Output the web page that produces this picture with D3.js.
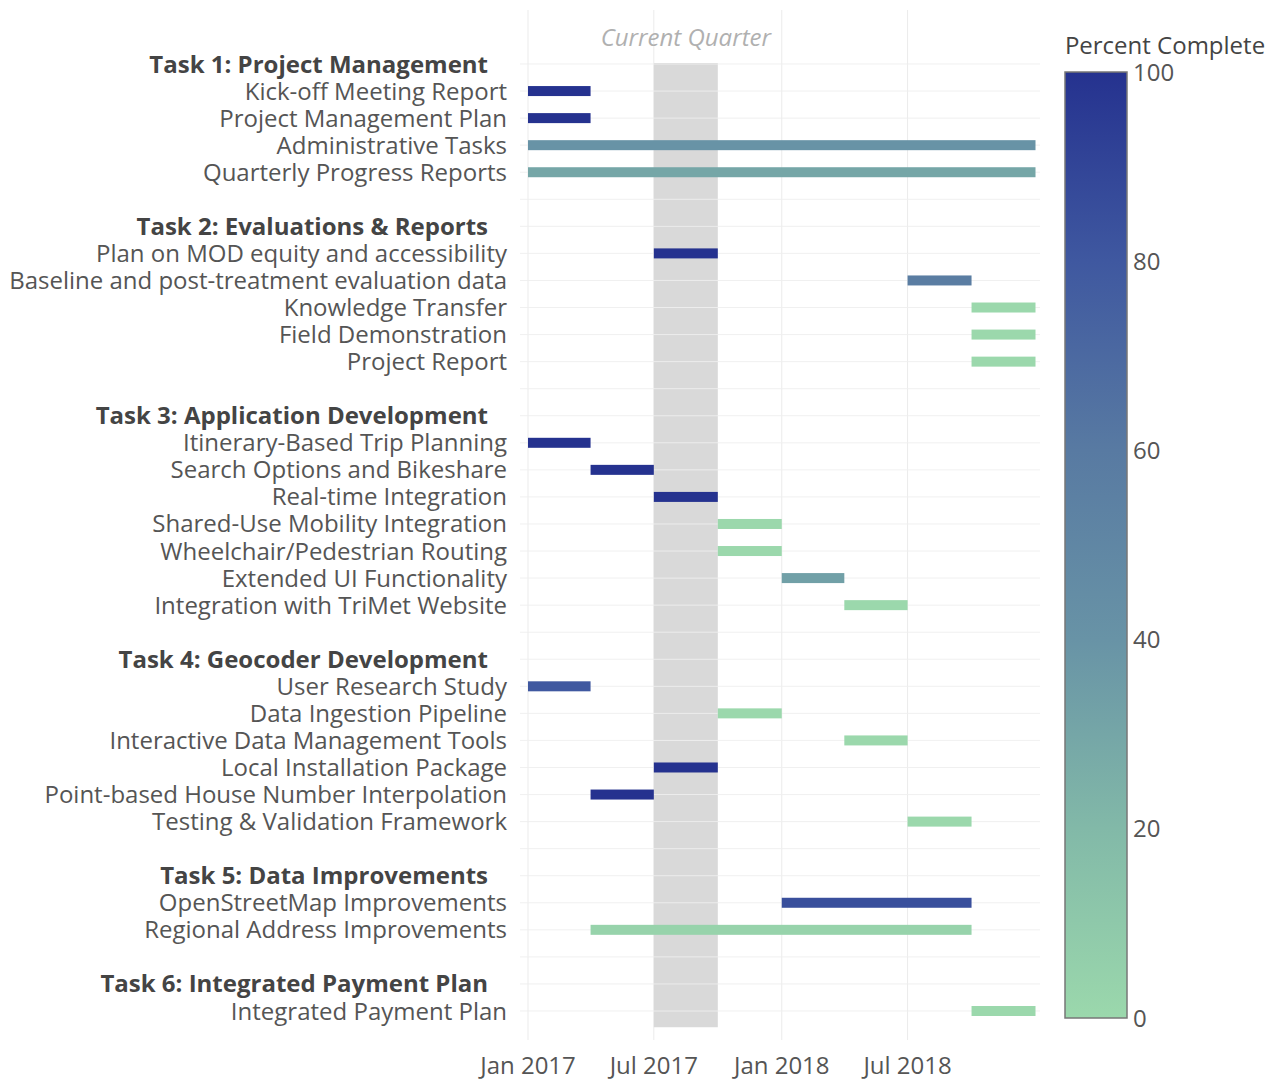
<!DOCTYPE html>
<html>
<head>
<meta charset="utf-8">
<script src="https://cdn.jsdelivr.net/npm/d3@7"></script>
<style>
  body { margin: 0; background: #fff; }
  text { font-family: "Open Sans", sans-serif; }
</style>
</head>
<body>
<div id="chart"></div>
<script>
// rows of the chart, top to bottom ("" = spacer row)
var rowLabels = [
  "Task 1: Project Management", "Kick-off Meeting Report", "Project Management Plan", "Administrative Tasks", "Quarterly Progress Reports", "",
  "Task 2: Evaluations & Reports", "Plan on MOD equity and accessibility", "Baseline and post-treatment evaluation data", "Knowledge Transfer", "Field Demonstration", "Project Report", "",
  "Task 3: Application Development", "Itinerary-Based Trip Planning", "Search Options and Bikeshare", "Real-time Integration", "Shared-Use Mobility Integration", "Wheelchair/Pedestrian Routing", "Extended UI Functionality", "Integration with TriMet Website", "",
  "Task 4: Geocoder Development", "User Research Study", "Data Ingestion Pipeline", "Interactive Data Management Tools", "Local Installation Package", "Point-based House Number Interpolation", "Testing & Validation Framework", "",
  "Task 5: Data Improvements", "OpenStreetMap Improvements", "Regional Address Improvements", "",
  "Task 6: Integrated Payment Plan", "Integrated Payment Plan"
];
var rowHeader = [
  1,0,0,0,0,0,
  1,0,0,0,0,0,0,
  1,0,0,0,0,0,0,0,0,
  1,0,0,0,0,0,0,0,
  1,0,0,0,
  1,0
];
// start / finish and percent complete for each row (null = no bar)
var startDates = [
  null, "2017-01-01", "2017-01-01", "2017-01-01", "2017-01-01", null,
  null, "2017-07-01", "2018-07-01", "2018-10-01", "2018-10-01", "2018-10-01", null,
  null, "2017-01-01", "2017-04-01", "2017-07-01", "2017-10-01", "2017-10-01", "2018-01-01", "2018-04-01", null,
  null, "2017-01-01", "2017-10-01", "2018-04-01", "2017-07-01", "2017-04-01", "2018-07-01", null,
  null, "2018-01-01", "2017-04-01", null,
  null, "2018-10-01"
];
var endDates = [
  null, "2017-04-01", "2017-04-01", "2019-01-01", "2019-01-01", null,
  null, "2017-10-01", "2018-10-01", "2019-01-01", "2019-01-01", "2019-01-01", null,
  null, "2017-04-01", "2017-07-01", "2017-10-01", "2018-01-01", "2018-01-01", "2018-04-01", "2018-07-01", null,
  null, "2017-04-01", "2018-01-01", "2018-07-01", "2017-10-01", "2017-07-01", "2018-10-01", null,
  null, "2018-10-01", "2018-10-01", null,
  null, "2019-01-01"
];
var percentComplete = [
  null, 100, 100, 40, 30, null,
  null, 100, 58, 0, 0, 0, null,
  null, 100, 100, 100, 0, 0, 33, 0, null,
  null, 80, 0, 0, 100, 100, 0, null,
  null, 85, 3, null,
  null, 0
];
var currentQuarter = ["2017-07-01", "2017-10-01"];
var xTicks = ["2017-01-01", "2017-07-01", "2018-01-01", "2018-07-01"];
var colorTicks = [0, 20, 40, 60, 80, 100];
var colorStops = ["#9bd8ac", "#82b9a8", "#6893a6", "#587aa2", "#3f58a0", "#25328f"];

var parse = d3.timeParse("%Y-%m-%d");
var w = 1275, h = 1080;
var fs = 24;

var svg = d3.select("#chart").append("svg")
  .attr("width", w).attr("height", h);

var x = d3.scaleTime()
  .domain([parse("2017-01-01"), parse("2019-01-01")])
  .range([528, 1035.5]);

var idx = d3.range(rowLabels.length);
var y = d3.scalePoint().domain(idx).range([64, 1011]);
var step = y.step();

var color = d3.scaleLinear().domain(colorTicks).range(colorStops);

var plotTop = 10, plotBottom = 1040, plotLeft = 520, plotRight = 1040;

// vertical grid
svg.append("g").selectAll("line")
  .data(xTicks.map(parse))
  .enter().append("line")
  .attr("x1", function(d) { return x(d); })
  .attr("x2", function(d) { return x(d); })
  .attr("y1", plotTop).attr("y2", plotBottom)
  .attr("stroke", "#ebebeb").attr("stroke-width", 1);

// current quarter shading
var q0 = x(parse(currentQuarter[0])), q1 = x(parse(currentQuarter[1]));
svg.append("rect")
  .attr("x", q0).attr("width", q1 - q0)
  .attr("y", y(0) - 1).attr("height", y(idx.length - 1) + step * 0.6 - y(0) + 1)
  .attr("fill", "#d9d9d9");

svg.append("text")
  .attr("x", (q0 + q1) / 2).attr("y", 36)
  .attr("text-anchor", "middle").attr("dominant-baseline", "central")
  .attr("font-style", "italic").attr("font-size", fs)
  .attr("fill", "#b0b0b0")
  .text("Current Quarter");

// horizontal grid
svg.append("g").selectAll("line")
  .data(idx)
  .enter().append("line")
  .attr("x1", plotLeft).attr("x2", plotRight)
  .attr("y1", function(d) { return y(d); })
  .attr("y2", function(d) { return y(d); })
  .attr("stroke", "#eeeeee")
  .attr("stroke-opacity", 0.9)
  .attr("stroke-width", 1);

// bars
svg.append("g").selectAll("rect")
  .data(idx.filter(function(i) { return startDates[i] !== null; }))
  .enter().append("rect")
  .attr("x", function(i) { return x(parse(startDates[i])); })
  .attr("width", function(i) { return x(parse(endDates[i])) - x(parse(startDates[i])); })
  .attr("y", function(i) { return y(i) - 5; })
  .attr("height", 10)
  .attr("fill", function(i) { return color(percentComplete[i]); });

// row labels
svg.append("g").selectAll("text")
  .data(idx.filter(function(i) { return rowLabels[i] !== ""; }))
  .enter().append("text")
  .attr("x", function(i) { return rowHeader[i] ? 488 : 507; })
  .attr("y", function(i) { return y(i) - 1; })
  .attr("text-anchor", "end")
  .attr("dominant-baseline", "central")
  .attr("font-size", fs)
  .attr("font-weight", function(i) { return rowHeader[i] ? "bold" : "normal"; })
  .attr("fill", function(i) { return rowHeader[i] ? "#444" : "#555"; })
  .text(function(i) { return rowLabels[i]; });

// x axis labels
var fmt = d3.timeFormat("%b %Y");
svg.append("g").selectAll("text")
  .data(xTicks.map(parse))
  .enter().append("text")
  .attr("x", function(d) { return x(d); })
  .attr("y", 1064)
  .attr("text-anchor", "middle")
  .attr("dominant-baseline", "central")
  .attr("font-size", fs)
  .attr("fill", "#555")
  .text(function(d) { return fmt(d); });

// colorbar
var cb = d3.scaleLinear().domain([0, 100]).range([1018, 72]);
var grad = svg.append("defs").append("linearGradient")
  .attr("id", "cbgrad")
  .attr("x1", 0).attr("y1", 1).attr("x2", 0).attr("y2", 0);
grad.selectAll("stop")
  .data(colorTicks)
  .enter().append("stop")
  .attr("offset", function(d) { return d / 100; })
  .attr("stop-color", function(d) { return color(d); });

svg.append("rect")
  .attr("x", 1065).attr("width", 62)
  .attr("y", cb(100)).attr("height", cb(0) - cb(100))
  .attr("fill", "url(#cbgrad)")
  .attr("stroke", "#777").attr("stroke-width", 1.5);

svg.append("g").selectAll("text")
  .data(colorTicks)
  .enter().append("text")
  .attr("x", 1133)
  .attr("y", function(d) { return cb(d) - 1; })
  .attr("dominant-baseline", "central")
  .attr("font-size", fs)
  .attr("fill", "#555")
  .text(function(d) { return d; });

svg.append("text")
  .attr("x", 1165).attr("y", 44)
  .attr("text-anchor", "middle")
  .attr("dominant-baseline", "central")
  .attr("font-size", fs)
  .attr("fill", "#444")
  .text("Percent Complete");
</script>
</body>
</html>
